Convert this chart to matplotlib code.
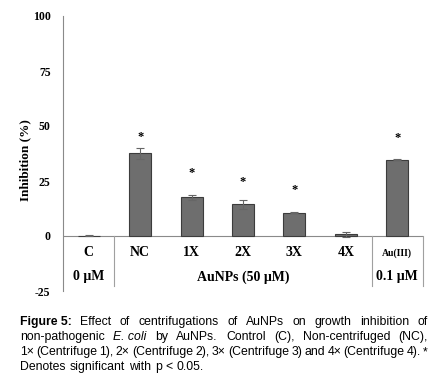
import matplotlib
matplotlib.use("Agg")
import matplotlib.pyplot as plt

categories = ["C", "NC", "1X", "2X", "3X", "4X", "Au(III)"]
values = [0.1, 37.6, 17.6, 14.4, 10.5, 0.8, 34.7]
errors = [0.2, 2.5, 1.1, 2.0, 0.2, 1.2, 0.3]
star_y = [None, 44.9, 28.6, 24.7, 21.0, None, 44.5]
groups = [("0 \u03bcM", 0), ("AuNPs (50 \u03bcM)", 3), ("0.1 \u03bcM", 6)]
yticks = [-25, 0, 25, 50, 75, 100]

serif = "Liberation Serif"
sans = "Liberation Sans"
cap_size = 8.8

fig = plt.figure(figsize=(4.38, 3.82), dpi=100)
ax = fig.add_axes([63/438, 1-291/382, 360/438, 275/382])
x = list(range(len(categories)))
ax.bar(x, values, width=0.43, color="#6e6e6e", edgecolor="#3c3c3c", linewidth=0.8, zorder=2)
ax.errorbar(x, values, yerr=errors, fmt="none", ecolor="#666666", elinewidth=0.8, capsize=3, capthick=0.8, zorder=3)
for xi, sy in zip(x, star_y):
    if sy is not None:
        ax.text(xi, sy, "*", ha="center", va="center", fontsize=9, fontweight="bold", family=serif)

ax.set_xlim(-0.5, 6.5)
ax.set_ylim(-25, 100)
for sp in ["top", "right", "bottom"]:
    ax.spines[sp].set_visible(False)
ax.spines["left"].set_color("#8a8a8a")
ax.spines["left"].set_linewidth(0.8)
ax.set_xticks([])
ax.set_yticks(yticks)
ax.set_yticklabels([str(t) for t in yticks], family=serif, fontweight="bold", fontsize=8.5)
ax.tick_params(axis="y", length=0, pad=9)
ax.axhline(0, color="#8a8a8a", linewidth=0.8, zorder=1)
for sx in [0.5, 5.5, 6.5]:
    ax.plot([sx, sx], [0, -22.7], color="#a0a0a0", linewidth=0.8, clip_on=False)

for xi, c in zip(x, categories):
    if c == "Au(III)":
        ax.text(xi, -7.7, c, ha="center", va="center", family=serif, fontweight="bold", fontsize=7)
    else:
        ax.text(xi, -7.7, c, ha="center", va="center", family=serif, fontweight="bold", fontsize=10)
for g, gx in groups:
    ax.text(gx, -18.6, g, ha="center", va="center", family=serif, fontweight="bold", fontsize=10)

fig.text(25/438, 1-160/382, "Inhibition (%)", rotation=90, ha="center", va="center",
         family=serif, fontweight="bold", fontsize=9.5)

# Caption with justification
lines = [
    [("Figure 5:", "bold", "normal"), ("Effect", "normal", "normal"), ("of", "normal", "normal"),
     ("centrifugations", "normal", "normal"), ("of", "normal", "normal"), ("AuNPs", "normal", "normal"),
     ("on", "normal", "normal"), ("growth", "normal", "normal"), ("inhibition", "normal", "normal"),
     ("of", "normal", "normal")],
    [("non-pathogenic", "normal", "normal"), ("E. coli", "normal", "italic"), ("by", "normal", "normal"),
     ("AuNPs.", "normal", "normal"), ("Control", "normal", "normal"), ("(C),", "normal", "normal"),
     ("Non-centrifuged", "normal", "normal"), ("(NC),", "normal", "normal")],
    [("1\u00d7", "normal", "normal"), ("(Centrifuge", "normal", "normal"), ("1),", "normal", "normal"),
     ("2\u00d7", "normal", "normal"), ("(Centrifuge", "normal", "normal"), ("2),", "normal", "normal"),
     ("3\u00d7", "normal", "normal"), ("(Centrifuge", "normal", "normal"), ("3)", "normal", "normal"),
     ("and", "normal", "normal"), ("4\u00d7", "normal", "normal"), ("(Centrifuge", "normal", "normal"),
     ("4).", "normal", "normal"), ("*", "normal", "normal")],
    [("Denotes", "normal", "normal"), ("significant", "normal", "normal"), ("with", "normal", "normal"),
     ("p", "normal", "normal"), ("<", "normal", "normal"), ("0.05.", "normal", "normal")],
]
line_y = [322, 337, 352, 367]
x_left, x_right = 20, 428
fig.canvas.draw()
renderer = fig.canvas.get_renderer()
for li, (words, yy) in enumerate(zip(lines, line_y)):
    texts = []
    for w, wt, st in words:
        t = fig.text(0, 1 - yy/382, w, ha="left", va="center", family=sans, fontweight=wt,
                     fontstyle=st, fontsize=cap_size)
        texts.append(t)
    widths = [t.get_window_extent(renderer).width for t in texts]
    if li < len(lines) - 1:
        gap = (x_right - x_left - sum(widths)) / (len(words) - 1)
    else:
        gap = 4.0
    cx = x_left
    for t, wdt in zip(texts, widths):
        t.set_x(cx / 438)
        cx += wdt + gap

fig.savefig("out.png", dpi=100)
